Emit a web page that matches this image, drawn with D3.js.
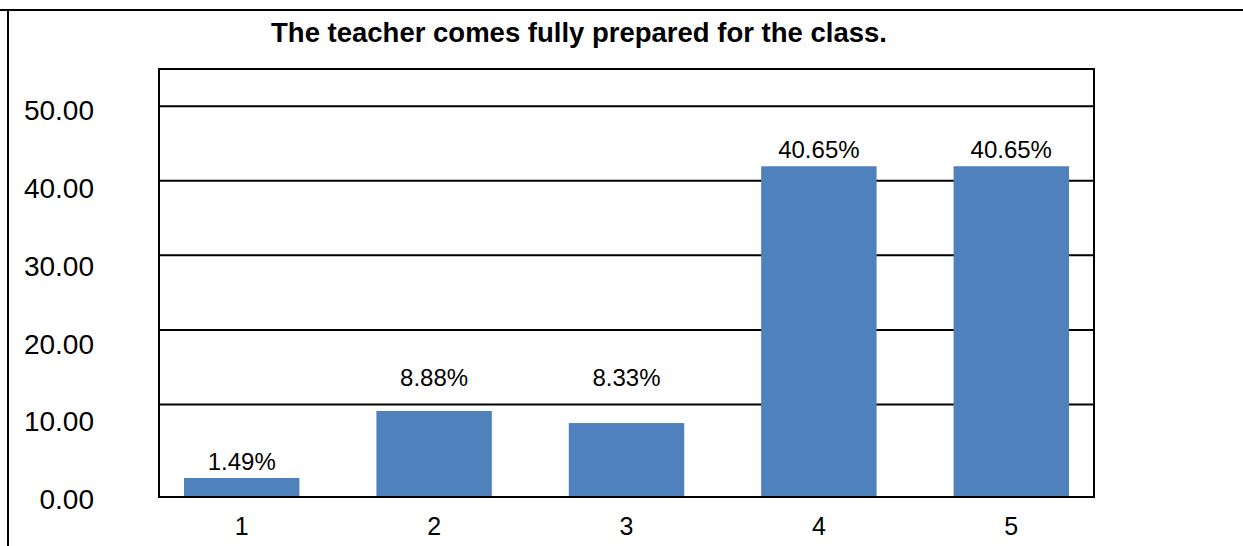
<!DOCTYPE html>
<html>
<head>
<meta charset="utf-8">
<script src="https://cdn.jsdelivr.net/npm/d3@7"></script>
<style>
  body { margin: 0; background: #fff; }
  text { font-family: "Liberation Sans", Arial, sans-serif; fill: #000; }
</style>
</head>
<body>
<div id="chart"></div>
<script>
// data
var categories = ["1", "2", "3", "4", "5"];
var barValues = [2.44, 11.05, 9.5, 42.5, 42.5];
var valueLabels = ["1.49%", "8.88%", "8.33%", "40.65%", "40.65%"];
var yTicks = [0, 10, 20, 30, 40, 50];
var title = "The teacher comes fully prepared for the class.";

var margin = {top: 69, right: 149, bottom: 49, left: 159},
    width = 1243 - margin.left - margin.right,
    height = 546 - margin.top - margin.bottom;

var svg = d3.select("#chart")
    .append("svg")
      .attr("width", 1243)
      .attr("height", 546);

// outer frame (top + left edge of the chart box)
svg.append("line")
    .attr("x1", 0).attr("x2", 1243)
    .attr("y1", 10).attr("y2", 10)
    .attr("stroke", "#000").attr("stroke-width", 2);
svg.append("line")
    .attr("x1", 8).attr("x2", 8)
    .attr("y1", 10).attr("y2", 546)
    .attr("stroke", "#000").attr("stroke-width", 2);

svg.append("text")
    .attr("x", 579)
    .attr("y", 42)
    .attr("text-anchor", "middle")
    .style("font-size", "27.5px")
    .style("font-weight", "bold")
    .text(title);

var g = svg.append("g")
    .attr("transform", "translate(" + margin.left + "," + margin.top + ")");

var x = d3.scaleBand()
    .domain(categories)
    .range([0, width])
    .paddingInner(0.4)
    .paddingOuter(0.13);

var y = d3.scaleLinear().domain([0, 55]).range([height, 0]);
// the gridlines sit on a slightly shorter range than the labels
var yGrid = d3.scaleLinear().domain([0, 55]).range([height - 18, 0]);
var gridValues = yTicks.filter(function(d) { return d > 0; });

// gridlines
g.selectAll(".grid")
  .data(gridValues)
  .enter().append("line")
    .attr("class", "grid")
    .attr("x1", 0).attr("x2", width)
    .attr("y1", function(d) { return yGrid(d); })
    .attr("y2", function(d) { return yGrid(d); })
    .attr("stroke", "#000")
    .attr("stroke-width", 2);

// bars
g.selectAll(".bar")
  .data(barValues)
  .enter().append("rect")
    .attr("class", "bar")
    .attr("x", function(d, i) { return x(categories[i]); })
    .attr("width", x.bandwidth())
    .attr("y", function(d) { return y(d); })
    .attr("height", function(d) { return height - y(d); })
    .attr("fill", "#4F81BD");

// label baseline: just above the bar, pushed over a gridline if it would cross one
function labelY(d) {
  var base = y(d) - 8;
  gridValues.forEach(function(v) {
    var gy = yGrid(v);
    if (gy > base - 20 && gy < base + 4) base = gy - 18;
  });
  return base;
}

// value labels
g.selectAll(".vlabel")
  .data(barValues)
  .enter().append("text")
    .attr("class", "vlabel")
    .attr("x", function(d, i) { return x(categories[i]) + x.bandwidth() / 2; })
    .attr("y", labelY)
    .attr("text-anchor", "middle")
    .style("font-size", "24px")
    .text(function(d, i) { return valueLabels[i]; });

// plot frame
g.append("rect")
    .attr("width", width)
    .attr("height", height)
    .attr("fill", "none")
    .attr("stroke", "#000")
    .attr("stroke-width", 2);

// y axis labels
var yAxis = d3.axisLeft(y)
    .tickValues(yTicks)
    .tickSize(0)
    .tickPadding(65)
    .tickFormat(d3.format(".2f"));

g.append("g")
    .attr("class", "axis axis--y")
    .call(yAxis)
    .call(function(s) { s.select(".domain").remove(); })
    .selectAll("text")
      .style("font-size", "28px")
      .attr("dy", "0.42em");

// x axis labels
var xAxis = d3.axisBottom(x)
    .tickSize(0)
    .tickPadding(29);

g.append("g")
    .attr("class", "axis axis--x")
    .attr("transform", "translate(0," + height + ")")
    .call(xAxis)
    .call(function(s) { s.select(".domain").remove(); })
    .selectAll("text")
      .style("font-size", "25px")
      .attr("dy", "0.35em");
</script>
</body>
</html>
